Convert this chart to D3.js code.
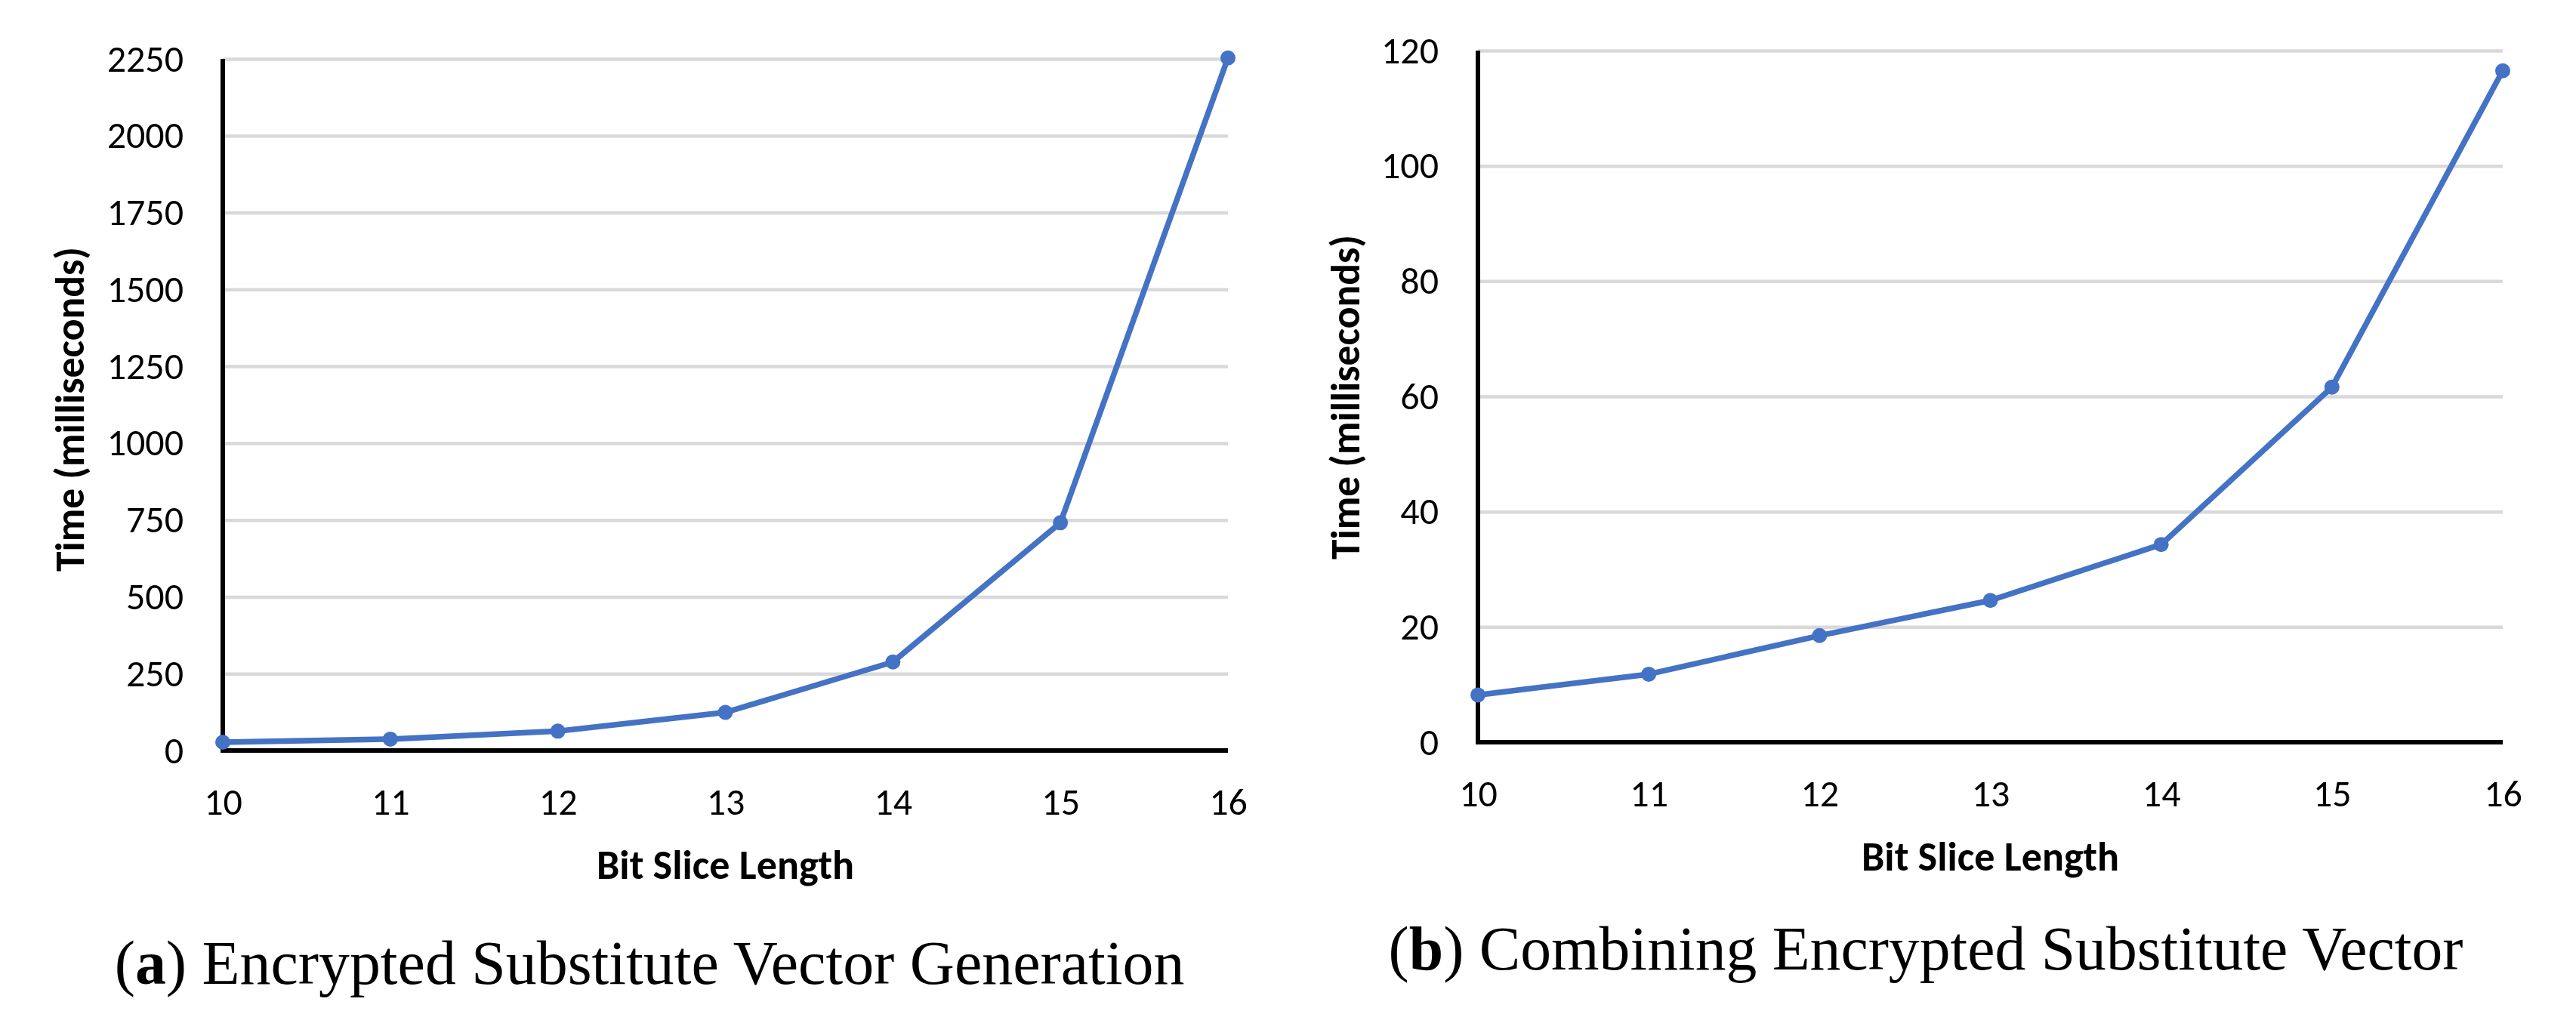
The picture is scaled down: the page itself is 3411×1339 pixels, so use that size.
<!DOCTYPE html>
<html>
<head>
<meta charset="utf-8">
<script src="https://cdn.jsdelivr.net/npm/d3@7"></script>
<style>
  body { margin: 0; background: #fff; }
  svg { display: block; }
  .tick text { font-family: Carlito, Calibri, Lato, sans-serif; font-size: 50px; fill: #000; }
  .title { font-family: Carlito, Calibri, Lato, sans-serif; font-weight: bold; font-size: 50px; fill: #000; }
  .caption { font-family: "Liberation Serif", "Times New Roman", serif; font-size: 80px; fill: #000; }
</style>
</head>
<body>
<svg width="3411" height="1339"></svg>
<script>
const bitLengths = [10, 11, 12, 13, 14, 15, 16];
const generationMs = [27, 37, 63, 124, 288, 741, 2253];
const combiningMs = [8.2, 11.8, 18.5, 24.6, 34.3, 61.6, 116.5];
const generationTicks = [0, 250, 500, 750, 1000, 1250, 1500, 1750, 2000, 2250];
const combiningTicks = [0, 20, 40, 60, 80, 100, 120];

const svg = d3.select("svg");
const blue = "#4472C4";

// scale a text's font so it takes the width seen in the picture
function fitWidth(sel, target) {
  const w = sel.node().getComputedTextLength();
  const fs = parseFloat(getComputedStyle(sel.node()).fontSize);
  sel.style("font-size", (fs * target) / w + "px");
}

function drawChart(c) {
  const g = svg.append("g");
  const x = d3.scaleLinear().domain([10, 16]).range([c.left, c.right]);
  const y = d3.scaleLinear().domain([0, c.max]).range([c.bottom, c.top]);

  // grid + y labels
  const yAxis = g
    .append("g")
    .attr("transform", "translate(" + c.left + ",0)")
    .call(
      d3.axisLeft(y)
        .tickValues(c.ticks)
        .tickFormat(d3.format("d"))
        .tickSize(-(c.right - c.left))
        .tickSizeOuter(0)
        .tickPadding(52)
    );
  yAxis.select(".domain").remove();
  yAxis.selectAll(".tick line").attr("stroke", "#d9d9d9").attr("stroke-width", 4.5);

  // x labels
  const xAxis = g
    .append("g")
    .attr("transform", "translate(0," + c.bottom + ")")
    .call(d3.axisBottom(x).tickValues(bitLengths).tickFormat(d3.format("d")).tickSize(0));
  xAxis.select(".domain").remove();
  xAxis.selectAll(".tick text").attr("y", 85).attr("dy", 0);

  // axis lines
  g.append("line")
    .attr("x1", c.left).attr("x2", c.left)
    .attr("y1", c.top).attr("y2", c.bottom + 3)
    .attr("stroke", "#000").attr("stroke-width", 6);
  g.append("line")
    .attr("x1", c.left - 3).attr("x2", c.right)
    .attr("y1", c.bottom).attr("y2", c.bottom)
    .attr("stroke", "#000").attr("stroke-width", 6);

  const line = d3.line()
    .x((d, i) => x(bitLengths[i]))
    .y((d) => y(d));

  g.append("path")
    .datum(c.values)
    .attr("fill", "none")
    .attr("stroke", blue)
    .attr("stroke-width", 7.5)
    .attr("stroke-linejoin", "round")
    .attr("d", line);

  g.selectAll("circle.pt")
    .data(c.values)
    .enter()
    .append("circle")
    .attr("class", "pt")
    .attr("cx", (d, i) => x(bitLengths[i]))
    .attr("cy", (d) => y(d))
    .attr("r", 10)
    .attr("fill", blue);

  const yTitle = g.append("text")
    .attr("class", "title")
    .attr("text-anchor", "middle")
    .attr("transform", "translate(" + c.yTitleX + "," + c.yTitleY + ") rotate(-90)")
    .attr("dy", "0.35em")
    .text("Time (milliseconds)");
  fitWidth(yTitle, 430);

  const xTitle = g.append("text")
    .attr("class", "title")
    .attr("text-anchor", "middle")
    .attr("x", (c.left + c.right) / 2)
    .attr("y", c.bottom + 170)
    .text("Bit Slice Length");
  fitWidth(xTitle, 341);

  const cap = g.append("text")
    .attr("class", "caption")
    .attr("text-anchor", "middle")
    .attr("x", c.capX)
    .attr("y", c.capY);
  cap.append("tspan").text("(");
  cap.append("tspan").attr("font-weight", "bold").text(c.letter);
  cap.append("tspan").text(") " + c.caption);
  fitWidth(cap, c.capW);
}

drawChart({
  left: 295, right: 1626, top: 78, bottom: 994,
  max: 2250, ticks: generationTicks, values: generationMs,
  yTitleX: 92, yTitleY: 542, capX: 860, capY: 1303, capW: 1417,
  letter: "a", caption: "Encrypted Substitute Vector Generation"
});

drawChart({
  left: 1957, right: 3314, top: 67, bottom: 983,
  max: 120, ticks: combiningTicks, values: combiningMs,
  yTitleX: 1781, yTitleY: 526, capX: 2550, capY: 1284, capW: 1423,
  letter: "b", caption: "Combining Encrypted Substitute Vector"
});
</script>
</body>
</html>
